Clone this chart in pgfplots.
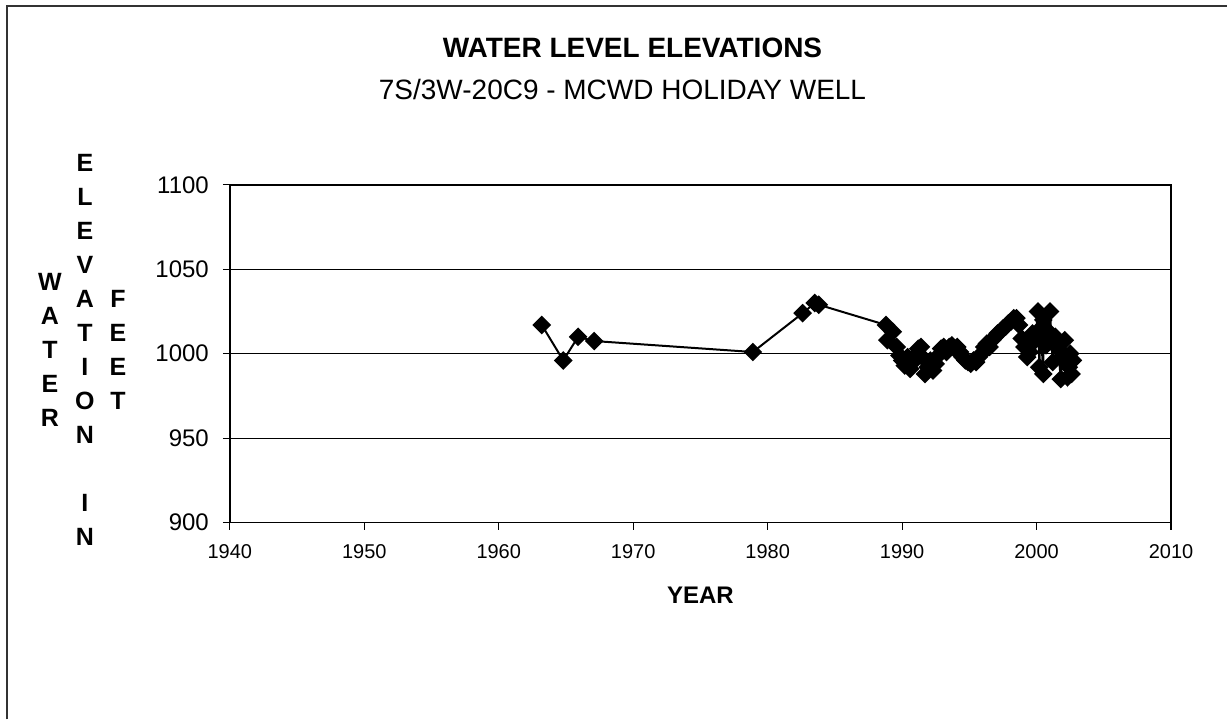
\documentclass[border=0pt]{standalone}
\usepackage{pgfplots}
\pgfplotsset{compat=1.18}
\usepackage{fontspec}
\setmainfont{Liberation Sans}
\begin{document}
\begin{tikzpicture}
\path (0pt,0pt) rectangle (614pt,360pt);
\draw[line width=1pt, black!80] (3.5pt,0pt) -- (3.5pt,357pt) -- (614pt,357pt);
\node[font=\bfseries\fontsize{14}{16}\selectfont] at (316.5pt,336pt) {WATER LEVEL ELEVATIONS};
\node[font=\fontsize{14}{16}\selectfont] at (311.5pt,315pt) {7S/3W-20C9 - MCWD HOLIDAY WELL};
\node[font=\bfseries\fontsize{12.5}{17}\selectfont, align=center] at (25pt,185pt) {W\\A\\T\\E\\R};
\node[font=\bfseries\fontsize{12.5}{17}\selectfont, align=center] at (42.5pt,185pt) {E\\L\\E\\V\\A\\T\\I\\O\\N\\[17pt]I\\N};
\node[font=\bfseries\fontsize{12.5}{17}\selectfont, align=center] at (59pt,185pt) {F\\E\\E\\T};
\begin{axis}[
  at={(115pt,98.5pt)}, anchor=south west, scale only axis,
  width=471pt, height=169pt,
  xmin=1940, xmax=2010, ymin=900, ymax=1100,
  xtick={1940,1950,...,2010}, ytick={900,950,...,1100},
  tick pos=left, tick align=outside, major tick length=3.5pt,
  ymajorgrids, grid style={black, line width=0.6pt},
  tick style={black, line width=0.6pt},
  axis line style={black, line width=0.8pt},
  /pgf/number format/1000 sep={},
  /pgf/number format/assume math mode=true,
  x tick label style={font=\fontsize{10}{12}\selectfont, yshift=-4pt},
  y tick label style={font=\fontsize{12}{14}\selectfont, xshift=-3.5pt},
  clip=false,
]
\addplot[black, line width=1pt, mark=square*, mark size=2.8pt, mark options={rotate=45, solid}] coordinates {
(1963.2,1017) (1964.8,996) (1965.9,1010) (1967.1,1007.5) (1978.9,1001)
(1982.6,1024) (1983.5,1030) (1983.8,1029) (1988.8,1017) (1988.9,1008) (1989.3,1013)
(1989.6,1004) (1989.8,999) (1990.0,996) (1990.2,993) (1990.4,998) (1990.6,991)
(1990.8,995) (1991.0,999) (1991.2,1003) (1991.4,1004) (1991.5,998) (1991.7,988)
(1991.9,992) (1992.1,996) (1992.3,990) (1992.5,994) (1992.7,999) (1992.9,1003)
(1993.1,1004) (1993.3,1001) (1993.5,1004) (1993.7,1005) (1993.9,1003) (1994.1,1004)
(1994.3,1001) (1994.5,998) (1994.7,996) (1994.9,995) (1995.1,994) (1995.3,996)
(1995.5,995) (1995.7,998) (1995.9,1000) (1996.1,1004) (1996.3,1006) (1996.5,1004)
(1996.7,1008) (1996.9,1010) (1997.1,1012) (1997.3,1013) (1997.5,1015) (1997.7,1016)
(1997.9,1018) (1998.1,1019) (1998.3,1021) (1998.5,1021) (1998.7,1017) (1998.9,1009)
(1999.1,1004) (1999.3,998) (1999.5,1001) (1999.7,1012) (1999.9,1008) (2000.1,1025)
(2000.2,992) (2000.3,1015) (2000.5,988) (2000.5,1020) (2000.7,1005) (2000.9,1013)
(2001.0,1025) (2001.2,995) (2001.4,1010) (2001.6,1003) (2001.8,985) (2001.9,998)
(2002.1,1008) (2002.3,986) (2002.4,992) (2002.5,1000) (2002.6,988) (2002.7,996)
};
\end{axis}
\node[font=\bfseries\fontsize{12}{14}\selectfont] at (350.5pt,62pt) {YEAR};
\end{tikzpicture}
\end{document}
